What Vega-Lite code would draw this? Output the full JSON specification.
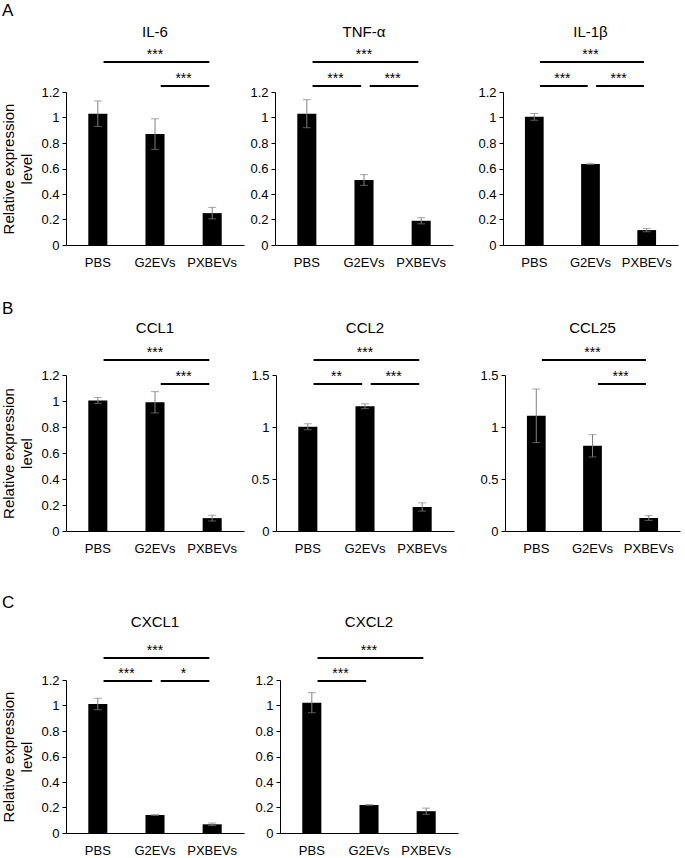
{
"$schema": "https://vega.github.io/schema/vega-lite/v6.json",
"padding": {"left": 1, "top": 2, "right": 2, "bottom": 2},
"config": {
  "font": "Liberation Sans",
  "view": {"stroke": null},
  "axis": {"domainColor": "black", "tickColor": "black", "labelColor": "black", "labelFontSize": 13, "titleFontSize": 15, "titleFontWeight": "normal", "titleColor": "black", "labelFont": "Liberation Sans", "titleFont": "Liberation Sans", "grid": false, "labelOverlap": false},
  "axisX": {"ticks": false, "labelAngle": 0, "labelPadding": 11},
  "axisY": {"tickSize": 4, "labelPadding": 3, "titlePadding": 6, "titleLineHeight": 18},
  "title": {"fontSize": 15, "fontWeight": "normal", "color": "black", "offset": 10}
},
"datasets": {
  "bars": [
    {"gene": "IL-6", "group": "PBS", "mean": 1.03, "err": 0.10},
    {"gene": "IL-6", "group": "G2EVs", "mean": 0.87, "err": 0.12},
    {"gene": "IL-6", "group": "PXBEVs", "mean": 0.25, "err": 0.045},
    {"gene": "TNF-α", "group": "PBS", "mean": 1.03, "err": 0.11},
    {"gene": "TNF-α", "group": "G2EVs", "mean": 0.51, "err": 0.042},
    {"gene": "TNF-α", "group": "PXBEVs", "mean": 0.19, "err": 0.024},
    {"gene": "IL-1β", "group": "PBS", "mean": 1.005, "err": 0.026},
    {"gene": "IL-1β", "group": "G2EVs", "mean": 0.636, "err": 0.005},
    {"gene": "IL-1β", "group": "PXBEVs", "mean": 0.117, "err": 0.013},
    {"gene": "CCL1", "group": "PBS", "mean": 1.004, "err": 0.022},
    {"gene": "CCL1", "group": "G2EVs", "mean": 0.99, "err": 0.082},
    {"gene": "CCL1", "group": "PXBEVs", "mean": 0.099, "err": 0.022},
    {"gene": "CCL2", "group": "PBS", "mean": 1.002, "err": 0.029},
    {"gene": "CCL2", "group": "G2EVs", "mean": 1.2, "err": 0.023},
    {"gene": "CCL2", "group": "PXBEVs", "mean": 0.231, "err": 0.04},
    {"gene": "CCL25", "group": "PBS", "mean": 1.108, "err": 0.257},
    {"gene": "CCL25", "group": "G2EVs", "mean": 0.819, "err": 0.107},
    {"gene": "CCL25", "group": "PXBEVs", "mean": 0.125, "err": 0.023},
    {"gene": "CXCL1", "group": "PBS", "mean": 1.012, "err": 0.045},
    {"gene": "CXCL1", "group": "G2EVs", "mean": 0.141, "err": 0.003},
    {"gene": "CXCL1", "group": "PXBEVs", "mean": 0.068, "err": 0.01},
    {"gene": "CXCL2", "group": "PBS", "mean": 1.022, "err": 0.079},
    {"gene": "CXCL2", "group": "G2EVs", "mean": 0.22, "err": 0.003},
    {"gene": "CXCL2", "group": "PXBEVs", "mean": 0.171, "err": 0.024}
  ],
  "sig": [
    {"gene": "IL-6", "from": "PBS", "to": "PXBEVs", "level": 1, "stars": "***"},
    {"gene": "IL-6", "from": "G2EVs", "to": "PXBEVs", "level": 2, "stars": "***"},
    {"gene": "TNF-α", "from": "PBS", "to": "PXBEVs", "level": 1, "stars": "***"},
    {"gene": "TNF-α", "from": "PBS", "to": "G2EVs", "level": 2, "stars": "***"},
    {"gene": "TNF-α", "from": "G2EVs", "to": "PXBEVs", "level": 2, "stars": "***"},
    {"gene": "IL-1β", "from": "PBS", "to": "PXBEVs", "level": 1, "stars": "***"},
    {"gene": "IL-1β", "from": "PBS", "to": "G2EVs", "level": 2, "stars": "***"},
    {"gene": "IL-1β", "from": "G2EVs", "to": "PXBEVs", "level": 2, "stars": "***"},
    {"gene": "CCL1", "from": "PBS", "to": "PXBEVs", "level": 1, "stars": "***"},
    {"gene": "CCL1", "from": "G2EVs", "to": "PXBEVs", "level": 2, "stars": "***"},
    {"gene": "CCL2", "from": "PBS", "to": "PXBEVs", "level": 1, "stars": "***"},
    {"gene": "CCL2", "from": "PBS", "to": "G2EVs", "level": 2, "stars": "**"},
    {"gene": "CCL2", "from": "G2EVs", "to": "PXBEVs", "level": 2, "stars": "***"},
    {"gene": "CCL25", "from": "PBS", "to": "PXBEVs", "level": 1, "stars": "***"},
    {"gene": "CCL25", "from": "G2EVs", "to": "PXBEVs", "level": 2, "stars": "***"},
    {"gene": "CXCL1", "from": "PBS", "to": "PXBEVs", "level": 1, "stars": "***"},
    {"gene": "CXCL1", "from": "PBS", "to": "G2EVs", "level": 2, "stars": "***"},
    {"gene": "CXCL1", "from": "G2EVs", "to": "PXBEVs", "level": 2, "stars": "*"},
    {"gene": "CXCL2", "from": "PBS", "to": "PXBEVs", "level": 1, "stars": "***"},
    {"gene": "CXCL2", "from": "PBS", "to": "G2EVs", "level": 2, "stars": "***"}
  ]
},
"spacing": 31,
"vconcat": [
  {
    "title": {"text": "A", "anchor": "start", "fontSize": 17, "offset": 5},
    "spacing": 5,
    "hconcat": [
      {
        "width": 178, "height": 153, "title": {"text": "IL-6", "offset": 8},
        "resolve": {"scale": {"y": "independent"}},
        "layer": [
          {"data": {"name": "bars"}, "transform": [{"filter": {"field": "gene", "equal": "IL-6"}}],
           "encoding": {
             "x": {"field": "group", "type": "nominal", "scale": {"type": "band", "domain": ["PBS", "G2EVs", "PXBEVs"], "paddingInner": 0.6667, "paddingOuter": 0.39}, "axis": {"title": null}},
             "y": {"field": "mean", "type": "quantitative", "scale": {"domain": [0, 1.2], "nice": false}, "axis": {"values": [0, 0.2, 0.4, 0.6, 0.8, 1, 1.2], "format": "~g", "title": ["Relative expression", "level"]}}},
           "layer": [
             {"mark": {"type": "bar", "color": "black"}},
             {"mark": {"type": "errorbar", "color": "#808080", "ticks": {"size": 8}}, "encoding": {"yError": {"field": "err"}}}
           ]},
          {"data": {"name": "sig"}, "transform": [{"filter": {"field": "gene", "equal": "IL-6"}}],
           "encoding": {"y": {"field": "level", "type": "quantitative", "scale": {"domain": [1, 2], "range": [-30, -6], "zero": false, "nice": false}, "axis": null}},
           "layer": [
             {"mark": {"type": "rule", "strokeWidth": 2, "color": "black"},
              "encoding": {"x": {"field": "from", "type": "nominal", "bandPosition": 0.8}, "x2": {"field": "to", "bandPosition": 0.35}}},
             {"transform": [{"filter": "datum.level == 1"}], "mark": {"type": "text", "fontSize": 14, "dy": -3, "baseline": "alphabetic"},
              "encoding": {"x": {"field": "from", "type": "nominal", "bandPosition": 3.5}, "text": {"field": "stars"}}},
             {"transform": [{"filter": "datum.level == 2"}], "mark": {"type": "text", "fontSize": 14, "dy": -3, "baseline": "alphabetic"},
              "encoding": {"x": {"field": "from", "type": "nominal", "bandPosition": 2.0}, "text": {"field": "stars"}}}
           ]}
        ]
      },
      {
        "spacing": 24,
        "hconcat": [
          {
            "width": 178, "height": 153, "title": {"text": "TNF-α", "offset": 8},
            "resolve": {"scale": {"y": "independent"}},
            "layer": [
              {"data": {"name": "bars"}, "transform": [{"filter": {"field": "gene", "equal": "TNF-α"}}],
               "encoding": {
                 "x": {"field": "group", "type": "nominal", "scale": {"type": "band", "domain": ["PBS", "G2EVs", "PXBEVs"], "paddingInner": 0.6667, "paddingOuter": 0.39}, "axis": {"title": null}},
                 "y": {"field": "mean", "type": "quantitative", "scale": {"domain": [0, 1.2], "nice": false}, "axis": {"values": [0, 0.2, 0.4, 0.6, 0.8, 1, 1.2], "format": "~g", "title": null}}},
               "layer": [
                 {"mark": {"type": "bar", "color": "black"}},
                 {"mark": {"type": "errorbar", "color": "#808080", "ticks": {"size": 8}}, "encoding": {"yError": {"field": "err"}}}
               ]},
              {"data": {"name": "sig"}, "transform": [{"filter": {"field": "gene", "equal": "TNF-α"}}],
               "encoding": {"y": {"field": "level", "type": "quantitative", "scale": {"domain": [1, 2], "range": [-30, -6], "zero": false, "nice": false}, "axis": null}},
               "layer": [
                 {"mark": {"type": "rule", "strokeWidth": 2, "color": "black"},
                  "encoding": {"x": {"field": "from", "type": "nominal", "bandPosition": 0.8}, "x2": {"field": "to", "bandPosition": 0.35}}},
                 {"transform": [{"filter": "datum.level == 1"}], "mark": {"type": "text", "fontSize": 14, "dy": -3, "baseline": "alphabetic"},
                  "encoding": {"x": {"field": "from", "type": "nominal", "bandPosition": 3.5}, "text": {"field": "stars"}}},
                 {"transform": [{"filter": "datum.level == 2"}], "mark": {"type": "text", "fontSize": 14, "dy": -3, "baseline": "alphabetic"},
                  "encoding": {"x": {"field": "from", "type": "nominal", "bandPosition": 2.0}, "text": {"field": "stars"}}}
               ]}
            ]
          },
          {
            "width": 175, "height": 153, "title": {"text": "IL-1β", "offset": 8},
            "resolve": {"scale": {"y": "independent"}},
            "layer": [
              {"data": {"name": "bars"}, "transform": [{"filter": {"field": "gene", "equal": "IL-1β"}}],
               "encoding": {
                 "x": {"field": "group", "type": "nominal", "scale": {"type": "band", "domain": ["PBS", "G2EVs", "PXBEVs"], "paddingInner": 0.6667, "paddingOuter": 0.39}, "axis": {"title": null}},
                 "y": {"field": "mean", "type": "quantitative", "scale": {"domain": [0, 1.2], "nice": false}, "axis": {"values": [0, 0.2, 0.4, 0.6, 0.8, 1, 1.2], "format": "~g", "title": null}}},
               "layer": [
                 {"mark": {"type": "bar", "color": "black"}},
                 {"mark": {"type": "errorbar", "color": "#808080", "ticks": {"size": 8}}, "encoding": {"yError": {"field": "err"}}}
               ]},
              {"data": {"name": "sig"}, "transform": [{"filter": {"field": "gene", "equal": "IL-1β"}}],
               "encoding": {"y": {"field": "level", "type": "quantitative", "scale": {"domain": [1, 2], "range": [-30, -6], "zero": false, "nice": false}, "axis": null}},
               "layer": [
                 {"mark": {"type": "rule", "strokeWidth": 2, "color": "black"},
                  "encoding": {"x": {"field": "from", "type": "nominal", "bandPosition": 0.8}, "x2": {"field": "to", "bandPosition": 0.35}}},
                 {"transform": [{"filter": "datum.level == 1"}], "mark": {"type": "text", "fontSize": 14, "dy": -3, "baseline": "alphabetic"},
                  "encoding": {"x": {"field": "from", "type": "nominal", "bandPosition": 3.5}, "text": {"field": "stars"}}},
                 {"transform": [{"filter": "datum.level == 2"}], "mark": {"type": "text", "fontSize": 14, "dy": -3, "baseline": "alphabetic"},
                  "encoding": {"x": {"field": "from", "type": "nominal", "bandPosition": 2.0}, "text": {"field": "stars"}}}
               ]}
            ]
          }
        ]
      }
    ]
  },
  {
    "spacing": 39,
    "vconcat": [
      {
        "title": {"text": "B", "anchor": "start", "fontSize": 17, "offset": 3},
        "spacing": 6,
        "hconcat": [
          {
            "width": 178, "height": 156, "title": {"text": "CCL1"},
            "resolve": {"scale": {"y": "independent"}},
            "layer": [
              {"data": {"name": "bars"}, "transform": [{"filter": {"field": "gene", "equal": "CCL1"}}],
               "encoding": {
                 "x": {"field": "group", "type": "nominal", "scale": {"type": "band", "domain": ["PBS", "G2EVs", "PXBEVs"], "paddingInner": 0.6667, "paddingOuter": 0.39}, "axis": {"title": null}},
                 "y": {"field": "mean", "type": "quantitative", "scale": {"domain": [0, 1.2], "nice": false}, "axis": {"values": [0, 0.2, 0.4, 0.6, 0.8, 1, 1.2], "format": "~g", "title": ["Relative expression", "level"]}}},
               "layer": [
                 {"mark": {"type": "bar", "color": "black"}},
                 {"mark": {"type": "errorbar", "color": "#808080", "ticks": {"size": 8}}, "encoding": {"yError": {"field": "err"}}}
               ]},
              {"data": {"name": "sig"}, "transform": [{"filter": {"field": "gene", "equal": "CCL1"}}],
               "encoding": {"y": {"field": "level", "type": "quantitative", "scale": {"domain": [1, 2], "range": [-15, 9], "zero": false, "nice": false}, "axis": null}},
               "layer": [
                 {"mark": {"type": "rule", "strokeWidth": 2, "color": "black"},
                  "encoding": {"x": {"field": "from", "type": "nominal", "bandPosition": 0.8}, "x2": {"field": "to", "bandPosition": 0.35}}},
                 {"transform": [{"filter": "datum.level == 1"}], "mark": {"type": "text", "fontSize": 14, "dy": -3, "baseline": "alphabetic"},
                  "encoding": {"x": {"field": "from", "type": "nominal", "bandPosition": 3.5}, "text": {"field": "stars"}}},
                 {"transform": [{"filter": "datum.level == 2"}], "mark": {"type": "text", "fontSize": 14, "dy": -3, "baseline": "alphabetic"},
                  "encoding": {"x": {"field": "from", "type": "nominal", "bandPosition": 2.0}, "text": {"field": "stars"}}}
               ]}
            ]
          },
          {
            "spacing": 25,
            "hconcat": [
              {
                "width": 178, "height": 156, "title": {"text": "CCL2"},
                "resolve": {"scale": {"y": "independent"}},
                "layer": [
                  {"data": {"name": "bars"}, "transform": [{"filter": {"field": "gene", "equal": "CCL2"}}],
                   "encoding": {
                     "x": {"field": "group", "type": "nominal", "scale": {"type": "band", "domain": ["PBS", "G2EVs", "PXBEVs"], "paddingInner": 0.6667, "paddingOuter": 0.39}, "axis": {"title": null}},
                     "y": {"field": "mean", "type": "quantitative", "scale": {"domain": [0, 1.5], "nice": false}, "axis": {"values": [0, 0.5, 1, 1.5], "format": "~g", "title": null}}},
                   "layer": [
                     {"mark": {"type": "bar", "color": "black"}},
                     {"mark": {"type": "errorbar", "color": "#808080", "ticks": {"size": 8}}, "encoding": {"yError": {"field": "err"}}}
                   ]},
                  {"data": {"name": "sig"}, "transform": [{"filter": {"field": "gene", "equal": "CCL2"}}],
                   "encoding": {"y": {"field": "level", "type": "quantitative", "scale": {"domain": [1, 2], "range": [-15, 9], "zero": false, "nice": false}, "axis": null}},
                   "layer": [
                     {"mark": {"type": "rule", "strokeWidth": 2, "color": "black"},
                      "encoding": {"x": {"field": "from", "type": "nominal", "bandPosition": 0.8}, "x2": {"field": "to", "bandPosition": 0.35}}},
                     {"transform": [{"filter": "datum.level == 1"}], "mark": {"type": "text", "fontSize": 14, "dy": -3, "baseline": "alphabetic"},
                      "encoding": {"x": {"field": "from", "type": "nominal", "bandPosition": 3.5}, "text": {"field": "stars"}}},
                     {"transform": [{"filter": "datum.level == 2"}], "mark": {"type": "text", "fontSize": 14, "dy": -3, "baseline": "alphabetic"},
                      "encoding": {"x": {"field": "from", "type": "nominal", "bandPosition": 2.0}, "text": {"field": "stars"}}}
                   ]}
                ]
              },
              {
                "width": 175, "height": 156, "title": {"text": "CCL25"},
                "resolve": {"scale": {"y": "independent"}},
                "layer": [
                  {"data": {"name": "bars"}, "transform": [{"filter": {"field": "gene", "equal": "CCL25"}}],
                   "encoding": {
                     "x": {"field": "group", "type": "nominal", "scale": {"type": "band", "domain": ["PBS", "G2EVs", "PXBEVs"], "paddingInner": 0.6667, "paddingOuter": 0.39}, "axis": {"title": null}},
                     "y": {"field": "mean", "type": "quantitative", "scale": {"domain": [0, 1.5], "nice": false}, "axis": {"values": [0, 0.5, 1, 1.5], "format": "~g", "title": null}}},
                   "layer": [
                     {"mark": {"type": "bar", "color": "black"}},
                     {"mark": {"type": "errorbar", "color": "#808080", "ticks": {"size": 8}}, "encoding": {"yError": {"field": "err"}}}
                   ]},
                  {"data": {"name": "sig"}, "transform": [{"filter": {"field": "gene", "equal": "CCL25"}}],
                   "encoding": {"y": {"field": "level", "type": "quantitative", "scale": {"domain": [1, 2], "range": [-15, 9], "zero": false, "nice": false}, "axis": null}},
                   "layer": [
                     {"mark": {"type": "rule", "strokeWidth": 2, "color": "black"},
                      "encoding": {"x": {"field": "from", "type": "nominal", "bandPosition": 0.8}, "x2": {"field": "to", "bandPosition": 0.35}}},
                     {"transform": [{"filter": "datum.level == 1"}], "mark": {"type": "text", "fontSize": 14, "dy": -3, "baseline": "alphabetic"},
                      "encoding": {"x": {"field": "from", "type": "nominal", "bandPosition": 3.5}, "text": {"field": "stars"}}},
                     {"transform": [{"filter": "datum.level == 2"}], "mark": {"type": "text", "fontSize": 14, "dy": -3, "baseline": "alphabetic"},
                      "encoding": {"x": {"field": "from", "type": "nominal", "bandPosition": 2.0}, "text": {"field": "stars"}}}
                   ]}
                ]
              }
            ]
          }
        ]
      },
      {
        "title": {"text": "C", "anchor": "start", "fontSize": 17, "offset": 3},
        "spacing": 10,
        "hconcat": [
          {
            "width": 178, "height": 153, "title": {"text": "CXCL1", "offset": 14},
            "resolve": {"scale": {"y": "independent"}},
            "layer": [
              {"data": {"name": "bars"}, "transform": [{"filter": {"field": "gene", "equal": "CXCL1"}}],
               "encoding": {
                 "x": {"field": "group", "type": "nominal", "scale": {"type": "band", "domain": ["PBS", "G2EVs", "PXBEVs"], "paddingInner": 0.6667, "paddingOuter": 0.39}, "axis": {"title": null}},
                 "y": {"field": "mean", "type": "quantitative", "scale": {"domain": [0, 1.2], "nice": false}, "axis": {"values": [0, 0.2, 0.4, 0.6, 0.8, 1, 1.2], "format": "~g", "title": ["Relative expression", "level"]}}},
               "layer": [
                 {"mark": {"type": "bar", "color": "black"}},
                 {"mark": {"type": "errorbar", "color": "#808080", "ticks": {"size": 8}}, "encoding": {"yError": {"field": "err"}}}
               ]},
              {"data": {"name": "sig"}, "transform": [{"filter": {"field": "gene", "equal": "CXCL1"}}],
               "encoding": {"y": {"field": "level", "type": "quantitative", "scale": {"domain": [1, 2], "range": [-22, 1], "zero": false, "nice": false}, "axis": null}},
               "layer": [
                 {"mark": {"type": "rule", "strokeWidth": 2, "color": "black"},
                  "encoding": {"x": {"field": "from", "type": "nominal", "bandPosition": 0.8}, "x2": {"field": "to", "bandPosition": 0.35}}},
                 {"transform": [{"filter": "datum.level == 1"}], "mark": {"type": "text", "fontSize": 14, "dy": -3, "baseline": "alphabetic"},
                  "encoding": {"x": {"field": "from", "type": "nominal", "bandPosition": 3.5}, "text": {"field": "stars"}}},
                 {"transform": [{"filter": "datum.level == 2"}], "mark": {"type": "text", "fontSize": 14, "dy": -3, "baseline": "alphabetic"},
                  "encoding": {"x": {"field": "from", "type": "nominal", "bandPosition": 2.0}, "text": {"field": "stars"}}}
               ]}
            ]
          },
          {
            "width": 178, "height": 153, "title": {"text": "CXCL2", "offset": 14},
            "resolve": {"scale": {"y": "independent"}},
            "layer": [
              {"data": {"name": "bars"}, "transform": [{"filter": {"field": "gene", "equal": "CXCL2"}}],
               "encoding": {
                 "x": {"field": "group", "type": "nominal", "scale": {"type": "band", "domain": ["PBS", "G2EVs", "PXBEVs"], "paddingInner": 0.6667, "paddingOuter": 0.39}, "axis": {"title": null}},
                 "y": {"field": "mean", "type": "quantitative", "scale": {"domain": [0, 1.2], "nice": false}, "axis": {"values": [0, 0.2, 0.4, 0.6, 0.8, 1, 1.2], "format": "~g", "title": null}}},
               "layer": [
                 {"mark": {"type": "bar", "color": "black"}},
                 {"mark": {"type": "errorbar", "color": "#808080", "ticks": {"size": 8}}, "encoding": {"yError": {"field": "err"}}}
               ]},
              {"data": {"name": "sig"}, "transform": [{"filter": {"field": "gene", "equal": "CXCL2"}}],
               "encoding": {"y": {"field": "level", "type": "quantitative", "scale": {"domain": [1, 2], "range": [-22, 1], "zero": false, "nice": false}, "axis": null}},
               "layer": [
                 {"mark": {"type": "rule", "strokeWidth": 2, "color": "black"},
                  "encoding": {"x": {"field": "from", "type": "nominal", "bandPosition": 0.8}, "x2": {"field": "to", "bandPosition": 0.35}}},
                 {"transform": [{"filter": "datum.level == 1"}], "mark": {"type": "text", "fontSize": 14, "dy": -3, "baseline": "alphabetic"},
                  "encoding": {"x": {"field": "from", "type": "nominal", "bandPosition": 3.5}, "text": {"field": "stars"}}},
                 {"transform": [{"filter": "datum.level == 2"}], "mark": {"type": "text", "fontSize": 14, "dy": -3, "baseline": "alphabetic"},
                  "encoding": {"x": {"field": "from", "type": "nominal", "bandPosition": 2.0}, "text": {"field": "stars"}}}
               ]}
            ]
          }
        ]
      }
    ]
  }
]
}
